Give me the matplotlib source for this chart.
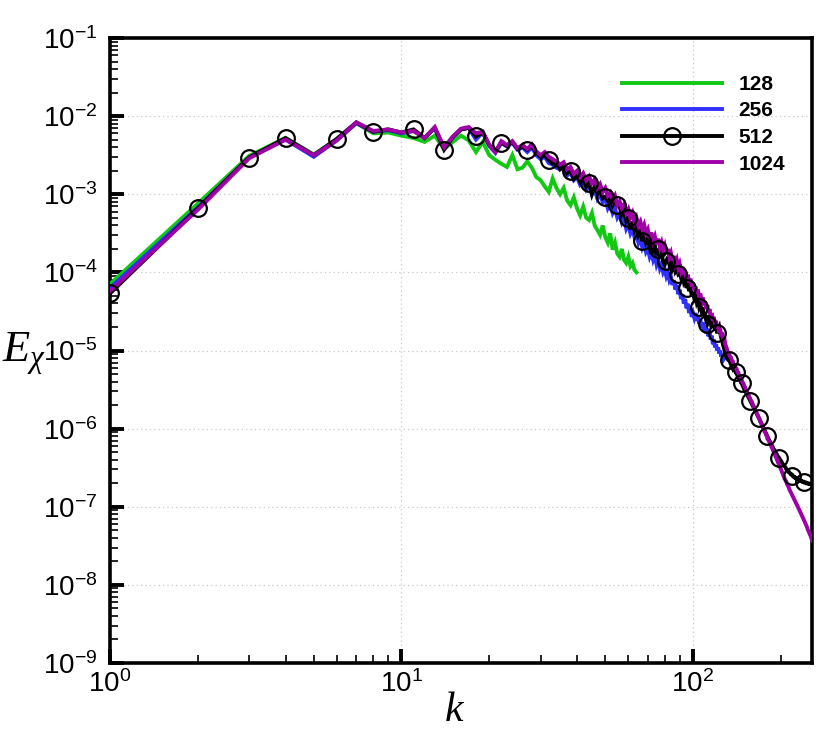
import numpy as np
import matplotlib
matplotlib.use("Agg")
import matplotlib.pyplot as plt
from matplotlib.lines import Line2D
from matplotlib.ticker import NullFormatter, FixedLocator

plt.rcParams['font.family'] = ['Liberation Sans', 'DejaVu Sans']
plt.rcParams['mathtext.fontset'] = 'custom'
plt.rcParams['mathtext.rm'] = 'Liberation Sans'
plt.rcParams['mathtext.it'] = 'Liberation Serif:italic'
plt.rcParams['mathtext.bf'] = 'Liberation Sans:bold'

# ---------------- data (log10 of E_chi at integer wavenumbers k = 1, 2, ...) ----------------
log_E_128 = [
    -4.15, -3.12, -2.51, -2.28, -2.49, -2.30, -2.09, -2.22, -2.21, -2.25,
    -2.28, -2.33, -2.25, -2.42, -2.33, -2.25, -2.31, -2.46, -2.33, -2.50,
    -2.56, -2.61, -2.65, -2.50, -2.68, -2.66, -2.58, -2.66, -2.78, -2.82,
    -2.90, -2.97, -2.80, -2.92, -3.00, -2.92, -3.08, -3.14, -3.04, -3.18,
    -3.27, -3.16, -3.30, -3.33, -3.24, -3.40, -3.46, -3.52, -3.40, -3.55,
    -3.62, -3.50, -3.71, -3.62, -3.76, -3.80, -3.70, -3.84, -3.88, -3.80,
    -3.92, -3.88, -3.97, -4.00,
]

log_E_256 = [
    -4.20, -3.17, -2.53, -2.30, -2.52, -2.31, -2.09, -2.20, -2.18, -2.22,
    -2.19, -2.28, -2.15, -2.41, -2.27, -2.17, -2.15, -2.30, -2.21, -2.38,
    -2.47, -2.34, -2.39, -2.34, -2.43, -2.40, -2.46, -2.40, -2.50, -2.55,
    -2.52, -2.60, -2.62, -2.66, -2.68, -2.66, -2.76, -2.72, -2.82, -2.78,
    -2.88, -2.84, -2.94, -2.88, -3.00, -2.95, -3.06, -3.00, -3.10, -3.06,
    -3.18, -3.12, -3.24, -3.18, -3.30, -3.25, -3.36, -3.30, -3.44, -3.38,
    -3.50, -3.44, -3.55, -3.50, -3.62, -3.56, -3.68, -3.62, -3.74, -3.70,
    -3.80, -3.74, -3.84, -3.78, -3.90, -3.84, -3.95, -3.90, -4.00, -3.96,
    -4.05, -4.00, -4.10, -4.06, -4.16, -4.10, -4.22, -4.16, -4.28, -4.22,
    -4.34, -4.28, -4.40, -4.34, -4.46, -4.40, -4.52, -4.46, -4.57, -4.52,
    -4.58, -4.52, -4.62, -4.56, -4.66, -4.60, -4.70, -4.64, -4.75, -4.68,
    -4.78, -4.72, -4.82, -4.76, -4.86, -4.81, -4.92, -4.86, -4.96, -4.92,
    -5.00, -4.96, -5.04, -5.00, -5.08, -5.04, -5.12, -5.10,
]

log_E_512 = [
    -4.27, -3.18, -2.53, -2.28, -2.50, -2.29, -2.08, -2.20, -2.17, -2.21,
    -2.17, -2.28, -2.15, -2.43, -2.27, -2.17, -2.15, -2.26, -2.21, -2.37,
    -2.45, -2.34, -2.38, -2.33, -2.42, -2.39, -2.43, -2.38, -2.47, -2.52,
    -2.50, -2.56, -2.61, -2.60, -2.68, -2.64, -2.73, -2.70, -2.80, -2.75,
    -2.84, -2.80, -2.90, -2.85, -3.00, -2.90, -2.98, -2.95, -3.05, -3.03,
    -3.08, -3.03, -3.14, -3.09, -3.14, -3.16, -3.26, -3.22, -3.34, -3.30,
    -3.45, -3.35, -3.46, -3.40, -3.52, -3.47, -3.60, -3.52, -3.62, -3.58,
    -3.68, -3.61, -3.71, -3.66, -3.78, -3.70, -3.82, -3.76, -3.86, -3.90,
    -3.86, -3.80, -3.90, -3.85, -3.95, -3.90, -3.99, -3.96, -4.02, -4.00,
    -4.07, -4.03, -4.12, -4.08, -4.20, -4.14, -4.24, -4.19, -4.30, -4.25,
    -4.33, -4.29, -4.38, -4.34, -4.44, -4.40, -4.49, -4.45, -4.56, -4.52,
    -4.62, -4.66, -4.62, -4.58, -4.65, -4.62, -4.70, -4.66, -4.74, -4.70,
    -4.78, -4.73, -4.70, -4.78, -4.84, -4.88, -4.94, -4.98, -5.04, -5.08,
    -5.10, -5.08, -5.12, -5.15, -5.18, -5.20, -5.23, -5.21, -5.25, -5.28,
    -5.28, -5.32, -5.33, -5.37, -5.38, -5.41, -5.42, -5.45, -5.47, -5.50,
    -5.52, -5.54, -5.56, -5.58, -5.60, -5.62, -5.64, -5.66, -5.68, -5.70,
    -5.72, -5.74, -5.76, -5.78, -5.80, -5.82, -5.84, -5.86, -5.88, -5.90,
    -5.92, -5.94, -5.96, -5.98, -6.00, -6.02, -6.04, -6.06, -6.08, -6.10,
    -6.12, -6.14, -6.16, -6.17, -6.19, -6.21, -6.22, -6.24, -6.26, -6.27,
    -6.29, -6.30, -6.32, -6.33, -6.35, -6.36, -6.37, -6.38, -6.40, -6.41,
    -6.42, -6.44, -6.45, -6.46, -6.47, -6.48, -6.49, -6.50, -6.52, -6.53,
    -6.54, -6.55, -6.55, -6.56, -6.57, -6.58, -6.58, -6.59, -6.60, -6.60,
    -6.61, -6.62, -6.62, -6.63, -6.63, -6.64, -6.64, -6.65, -6.65, -6.65,
    -6.66, -6.66, -6.66, -6.67, -6.67, -6.67, -6.68, -6.68, -6.68, -6.68,
    -6.69, -6.69, -6.69, -6.69, -6.70, -6.70, -6.70, -6.70, -6.70, -6.71,
    -6.71, -6.71, -6.71, -6.71, -6.71, -6.72,
]

log_E_1024 = [
    -4.24, -3.20, -2.54, -2.30, -2.50, -2.31, -2.08, -2.19, -2.17, -2.21,
    -2.19, -2.28, -2.14, -2.40, -2.26, -2.16, -2.14, -2.22, -2.20, -2.37,
    -2.46, -2.32, -2.37, -2.32, -2.41, -2.37, -2.42, -2.36, -2.45, -2.50,
    -2.46, -2.52, -2.55, -2.58, -2.62, -2.59, -2.68, -2.65, -2.74, -2.70,
    -2.78, -2.73, -2.82, -2.77, -2.86, -2.81, -2.92, -2.87, -2.97, -2.92,
    -3.02, -2.98, -3.08, -3.02, -3.14, -3.09, -3.18, -3.13, -3.24, -3.19,
    -3.30, -3.24, -3.36, -3.30, -3.40, -3.35, -3.45, -3.39, -3.50, -3.45,
    -3.56, -3.49, -3.60, -3.54, -3.64, -3.57, -3.68, -3.62, -3.72, -3.66,
    -3.76, -3.70, -3.80, -3.75, -3.85, -3.79, -3.89, -3.84, -3.94, -3.89,
    -3.98, -3.93, -4.03, -3.98, -4.08, -4.03, -4.13, -4.08, -4.18, -4.13,
    -4.23, -4.18, -4.27, -4.22, -4.32, -4.27, -4.37, -4.32, -4.42, -4.37,
    -4.47, -4.42, -4.52, -4.47, -4.57, -4.52, -4.62, -4.57, -4.67, -4.62,
    -4.72, -4.67, -4.77, -4.72, -4.82, -4.77, -4.87, -4.83, -4.92, -4.95,
    -4.99, -5.03, -5.04, -5.08, -5.09, -5.13, -5.14, -5.18, -5.19, -5.22,
    -5.23, -5.27, -5.28, -5.32, -5.33, -5.37, -5.38, -5.41, -5.42, -5.46,
    -5.47, -5.51, -5.52, -5.55, -5.56, -5.60, -5.61, -5.64, -5.65, -5.68,
    -5.70, -5.73, -5.74, -5.77, -5.79, -5.82, -5.83, -5.86, -5.87, -5.91,
    -5.92, -5.95, -5.96, -5.99, -6.00, -6.04, -6.05, -6.08, -6.09, -6.13,
    -6.14, -6.16, -6.17, -6.20, -6.21, -6.24, -6.25, -6.28, -6.29, -6.31,
    -6.33, -6.36, -6.37, -6.40, -6.41, -6.44, -6.45, -6.48, -6.49, -6.52,
    -6.53, -6.56, -6.57, -6.60, -6.61, -6.64, -6.65, -6.67, -6.68, -6.71,
    -6.72, -6.74, -6.75, -6.78, -6.79, -6.81, -6.82, -6.84, -6.85, -6.87,
    -6.88, -6.90, -6.91, -6.93, -6.94, -6.96, -6.97, -6.99, -7.00, -7.02,
    -7.03, -7.05, -7.06, -7.08, -7.09, -7.11, -7.12, -7.14, -7.15, -7.17,
    -7.18, -7.20, -7.21, -7.23, -7.24, -7.26, -7.28, -7.30, -7.31, -7.33,
    -7.34, -7.36, -7.37, -7.39, -7.41, -7.43,
]

# wavenumbers carrying a circle symbol on the 512 curve
marker_k_512 = [1, 2, 3, 4, 6, 8, 11, 14, 18, 22, 27, 32, 38, 44, 50, 55, 60, 67,
                76, 81, 89, 95, 105, 112, 121, 133, 140, 147, 157, 168, 180, 197,
                219, 240]

labels = ["128", "256", "512", "1024"]
colors = ["#12c812", "#3030ff", "#000000", "#a000a8"]

x_major_ticks = [1, 10, 100]
y_major_ticks = [1e-9, 1e-8, 1e-7, 1e-6, 1e-5, 1e-4, 1e-3, 1e-2, 1e-1]

series = [log_E_128, log_E_256, log_E_512, log_E_1024]

# ---------------- figure ----------------
W, H = 830, 739
fig = plt.figure(figsize=(W / 100, H / 100), dpi=100)
ax = fig.add_axes([110 / W, 1 - 663 / H, 702 / W, 625 / H])

lw = 2.8
for lab, col, le in zip(labels, colors, series):
    k = np.arange(1, len(le) + 1)
    E = 10.0 ** np.array(le)
    ax.plot(k, E, color=col, lw=lw, solid_joinstyle='miter', zorder=3)

k512 = np.arange(1, len(log_E_512) + 1)
E512 = 10.0 ** np.array(log_E_512)
idx = [m - 1 for m in marker_k_512]
ax.plot(k512[idx], E512[idx], linestyle='none', marker='o', ms=12,
        mfc='none', mec='black', mew=1.6, zorder=5)

ax.set_xscale('log')
ax.set_yscale('log')
ax.set_xlim(1, 256)
ax.set_ylim(1e-9, 1e-1)

x_minor = [m * d for d in (1, 10, 100) for m in range(2, 10) if m * d <= 256]
y_minor = [m * d for d in y_major_ticks[:-1] for m in range(2, 10)]
ax.xaxis.set_major_locator(FixedLocator(x_major_ticks))
ax.yaxis.set_major_locator(FixedLocator(y_major_ticks))
ax.xaxis.set_minor_locator(FixedLocator(x_minor))
ax.yaxis.set_minor_locator(FixedLocator(y_minor))
ax.xaxis.set_minor_formatter(NullFormatter())
ax.yaxis.set_minor_formatter(NullFormatter())

ax.grid(True, which='major', linestyle=(0, (1, 2.5)), color='#c8c8c8', lw=0.9)
ax.set_axisbelow(True)

for s in ax.spines.values():
    s.set_linewidth(2.6)

ax.tick_params(which='major', direction='in', length=10, width=2.8,
               labelsize=20, pad=9, top=False, right=False)
ax.tick_params(which='minor', direction='in', length=5.5, width=1.2,
               top=False, right=False)
ax.tick_params(axis='x', which='major', pad=5)

# axis titles
fig.text(455 / W, 1 - 710 / H, r'$k$', fontsize=30, ha='center', va='center')
fig.text(2 / W, 1 - 362 / H, r'$E_{\chi}$', fontsize=32, ha='left', va='baseline')

# legend
handles = []
for lab, col in zip(labels, colors):
    if lab == "512":
        h = Line2D([], [], color=col, lw=lw, marker='o', ms=12, mfc='none',
                   mec='black', mew=1.6)
    else:
        h = Line2D([], [], color=col, lw=lw)
    handles.append(h)
leg = ax.legend(handles, labels, loc='upper left',
                bbox_to_anchor=(622 / W, 1 - 75 / H), bbox_transform=fig.transFigure,
                frameon=False, borderpad=0, borderaxespad=0,
                handlelength=4.8, handletextpad=0.8, labelspacing=0.36,
                numpoints=1, prop={'weight': 'bold', 'size': 15})

fig.savefig("out.png", dpi=100)
